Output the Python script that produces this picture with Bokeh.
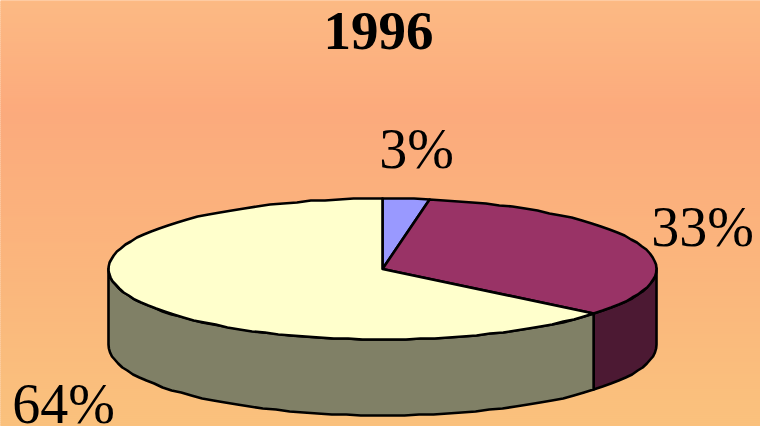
import numpy as np
from bokeh.plotting import figure
from bokeh.embed import file_html
from bokeh.resources import INLINE
from bokeh.core.properties import value

title = "1996"
labels = ["3%", "33%", "64%"]
shares = [2.75, 33.25, 64]
top_colors = ["#9999FF", "#993366", "#FFFFCC"]
side_colors = ["#4C1933", "#4C1933", "#808066"]
label_xy = [(416, 148.5), (702, 226), (63, 403)]

W, H = 760, 426
CX, CY, RX, RY, DEPTH = 382, 268.5, 274, 70.5, 76
LW = 2.6
GRID = 1.0
ink = "#000000"

# background gradient stops (y, rgb)
grad_y = [0, 110, 426]
grad_r = [253, 252, 250]
grad_g = [186, 170, 194]
grad_b = [132, 125, 125]

p = figure(width=W, height=H, x_range=(0, W), y_range=(H, 0), output_backend="svg",
           toolbar_location=None, min_border=0, outline_line_color=None,
           margin=(0, 0, 0, 0))
p.axis.visible = False
p.grid.visible = False
p.background_fill_color = "#fdba84"
p.border_fill_color = "#fdba84"

ys = np.arange(0, H, 2)
cols = ["#%02x%02x%02x" % (int(np.interp(y, grad_y, grad_r)), int(np.interp(y, grad_y, grad_g)),
                           int(np.interp(y, grad_y, grad_b))) for y in ys]
p.quad(left=-5, right=W + 5, top=ys - (ys == 0) * 5, bottom=ys + 2, fill_color=cols, line_color=cols, line_width=0.5)


def ex(a):
    return CX + RX * np.sin(a)


def ey(a):
    # the outline of the reference runs in small kinks
    return np.round((CY - RY * np.cos(a)) / GRID) * GRID


def arc(a0, a1):
    n = max(2, int(abs(a1 - a0) / np.radians(3)) + 1)
    return np.linspace(a0, a1, n)


cum = np.cumsum([0] + shares) / 100 * 2 * np.pi

# side walls (only the front half, from the right rim to the left rim)
for i in range(len(shares)):
    a0, a1 = max(cum[i], np.pi / 2), min(cum[i + 1], 1.5 * np.pi)
    if a1 <= a0:
        continue
    t = arc(a0, a1)
    xs = np.r_[ex(t), ex(t[::-1])]
    yv = np.r_[ey(t), ey(t[::-1]) + DEPTH]
    p.patch(xs, yv, fill_color=side_colors[i], line_color=ink, line_width=LW, line_join="round")

# top faces
for i in range(len(shares)):
    t = arc(cum[i], cum[i + 1])
    xs = np.r_[CX, ex(t)]
    yv = np.r_[CY, ey(t)]
    p.patch(xs, yv, fill_color=top_colors[i], line_color=ink, line_width=LW, line_join="round")

font = value("Liberation Serif")
p.text([378], [30], text=[title], text_font=font, text_font_size="55px", text_font_style="bold",
       text_align="center", text_baseline="middle", text_color=ink)
for (x, y), s in zip(label_xy, labels):
    p.text([x], [y], text=[s], text_font=font, text_font_size="56px",
           text_align="center", text_baseline="middle", text_color=ink)

open("out.html", "w").write(file_html(p, INLINE))
